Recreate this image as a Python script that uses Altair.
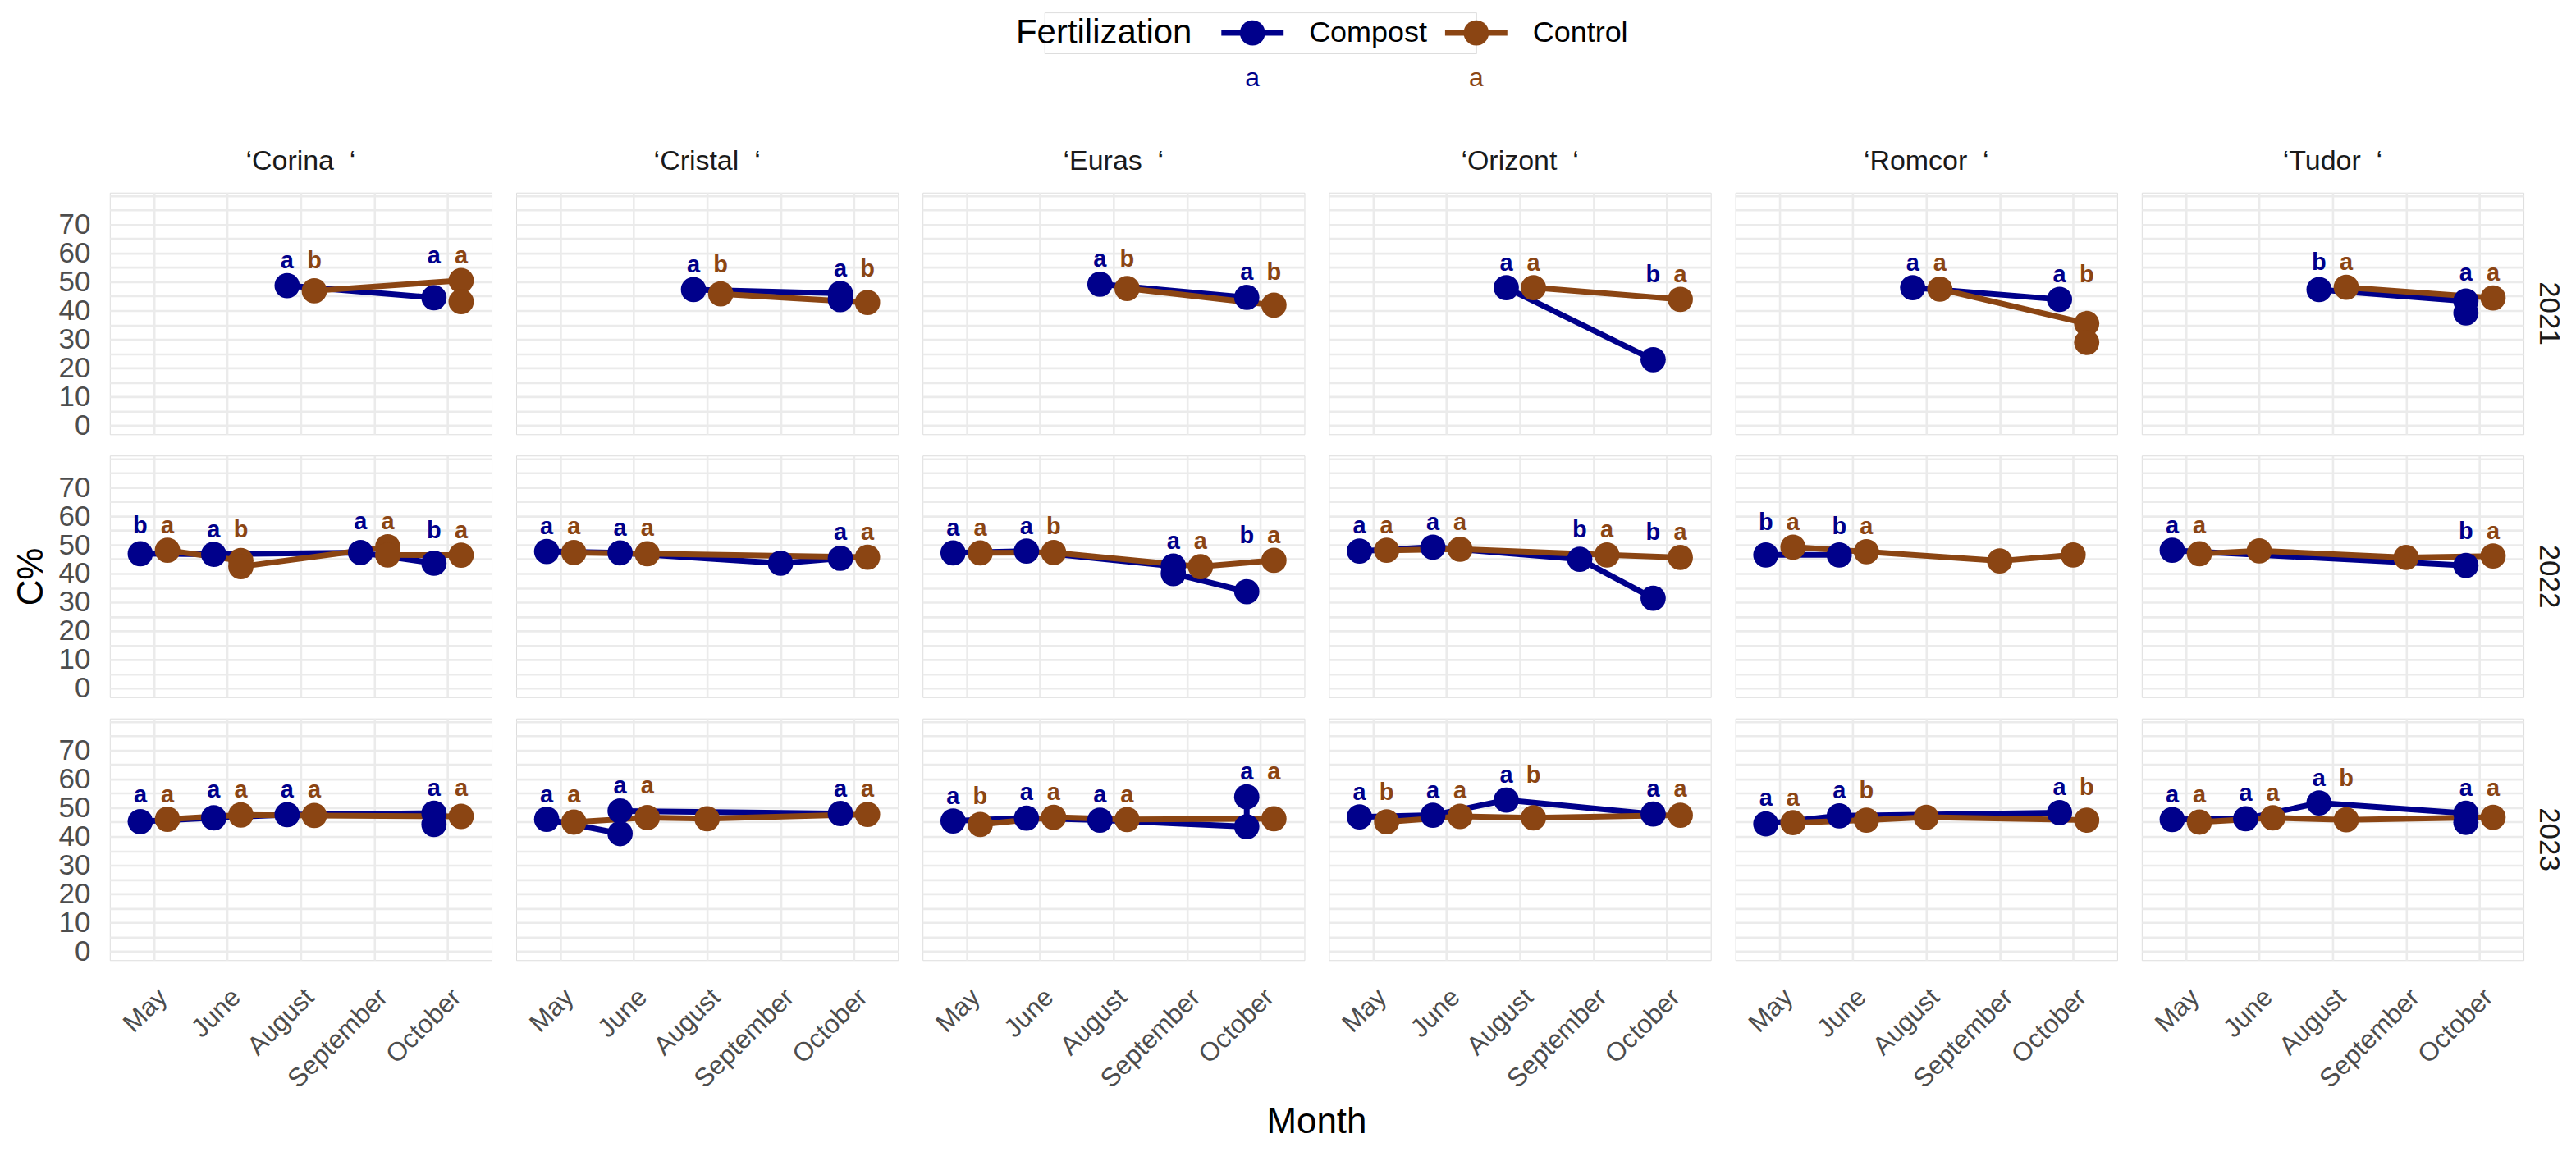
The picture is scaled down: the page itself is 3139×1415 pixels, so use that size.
import altair as alt
import pandas as pd

FONT = "Liberation Sans"
MONTHS = ["May", "June", "August", "September", "October"]
CULTIVARS = ["Corina", "Cristal", "Euras", "Orizont", "Romcor", "Tudor"]
YEARS = [2021, 2022, 2023]
FERTS = ["Compost", "Control"]
COLORS = ["#00008B", "#8B4513"]
Y_GRID = [0, 5, 10, 15, 20, 25, 30, 35, 40, 45, 50, 55, 60, 65, 70, 75, 80]
Y_LABELS = [0, 10, 20, 30, 40, 50, 60, 70]

# C% readings: cultivar -> list of (month, value), in line order
COMPOST_2021 = {
    "Corina": [("August", 48.7), ("October", 44.5)],
    "Cristal": [("August", 47.3), ("October", 46.0), ("October", 43.8)],
    "Euras": [("August", 49.2), ("October", 44.6)],
    "Orizont": [("August", 48.0), ("October", 22.9)],
    "Romcor": [("August", 48.0), ("October", 43.9)],
    "Tudor": [("August", 47.3), ("October", 43.3), ("October", 39.2)],
}
CONTROL_2021 = {
    "Corina": [("August", 46.9), ("October", 50.5), ("October", 43.1)],
    "Cristal": [("August", 45.8), ("October", 42.8)],
    "Euras": [("August", 47.7), ("October", 41.9)],
    "Orizont": [("August", 48.0), ("October", 43.9)],
    "Romcor": [("August", 47.5), ("October", 35.5), ("October", 28.9)],
    "Tudor": [("August", 48.1), ("October", 44.4)],
}
COMPOST_2022 = {
    "Corina": [("May", 46.9), ("June", 46.7), ("September", 47.3), ("October", 43.6)],
    "Cristal": [("May", 47.7), ("June", 47.2), ("September", 43.6), ("October", 45.3)],
    "Euras": [("May", 47.2), ("June", 47.8), ("September", 42.6), ("September", 40.0), ("October", 33.7)],
    "Orizont": [("May", 47.8), ("June", 49.2), ("September", 45.0), ("October", 31.4)],
    "Romcor": [("May", 46.5), ("June", 46.5)],
    "Tudor": [("May", 48.1), ("October", 42.8)],
}
CONTROL_2022 = {
    "Corina": [("May", 48.1), ("June", 44.5), ("June", 42.4), ("September", 49.3), ("September", 46.5), ("October", 46.4)],
    "Cristal": [("May", 47.3), ("June", 46.9), ("October", 45.7)],
    "Euras": [("May", 47.2), ("June", 47.3), ("September", 42.4), ("October", 44.6)],
    "Orizont": [("May", 48.1), ("June", 48.5), ("September", 46.5), ("October", 45.6)],
    "Romcor": [("May", 49.2), ("June", 47.6), ("September", 44.4), ("October", 46.5)],
    "Tudor": [("May", 46.9), ("June", 47.9), ("September", 45.6), ("October", 46.1)],
}
COMPOST_2023 = {
    "Corina": [("May", 45.2), ("June", 46.5), ("August", 47.6), ("October", 48.1), ("October", 44.2)],
    "Cristal": [("May", 46.0), ("June", 41.0), ("June", 48.9), ("October", 48.0)],
    "Euras": [("May", 45.4), ("June", 46.4), ("August", 45.7), ("October", 43.4), ("October", 53.8)],
    "Orizont": [("May", 46.8), ("June", 47.4), ("August", 52.7), ("October", 47.8)],
    "Romcor": [("May", 44.4), ("June", 47.2), ("October", 48.3)],
    "Tudor": [("May", 45.9), ("June", 46.2), ("August", 51.7), ("October", 48.1), ("October", 44.9)],
}
CONTROL_2023 = {
    "Corina": [("May", 46.0), ("June", 47.5), ("August", 47.3), ("October", 47.0)],
    "Cristal": [("May", 45.0), ("June", 46.6), ("August", 46.2), ("October", 47.7)],
    "Euras": [("May", 44.2), ("June", 46.7), ("August", 45.9), ("October", 46.2)],
    "Orizont": [("May", 45.1), ("June", 47.0), ("August", 46.5), ("October", 47.4)],
    "Romcor": [("May", 44.8), ("June", 45.7), ("August", 46.7), ("October", 45.7)],
    "Tudor": [("May", 45.0), ("June", 46.5), ("August", 45.8), ("October", 46.7)],
}

# significance letters: cultivar -> list of (month, Compost letter, Control letter)
LETTERS_2021 = {
    "Corina": [("August", "a", "b"), ("October", "a", "a")],
    "Cristal": [("August", "a", "b"), ("October", "a", "b")],
    "Euras": [("August", "a", "b"), ("October", "a", "b")],
    "Orizont": [("August", "a", "a"), ("October", "b", "a")],
    "Romcor": [("August", "a", "a"), ("October", "a", "b")],
    "Tudor": [("August", "b", "a"), ("October", "a", "a")],
}
LETTERS_2022 = {
    "Corina": [("May", "b", "a"), ("June", "a", "b"), ("September", "a", "a"), ("October", "b", "a")],
    "Cristal": [("May", "a", "a"), ("June", "a", "a"), ("October", "a", "a")],
    "Euras": [("May", "a", "a"), ("June", "a", "b"), ("September", "a", "a"), ("October", "b", "a")],
    "Orizont": [("May", "a", "a"), ("June", "a", "a"), ("September", "b", "a"), ("October", "b", "a")],
    "Romcor": [("May", "b", "a"), ("June", "b", "a")],
    "Tudor": [("May", "a", "a"), ("October", "b", "a")],
}
LETTERS_2023 = {
    "Corina": [("May", "a", "a"), ("June", "a", "a"), ("August", "a", "a"), ("October", "a", "a")],
    "Cristal": [("May", "a", "a"), ("June", "a", "a"), ("October", "a", "a")],
    "Euras": [("May", "a", "b"), ("June", "a", "a"), ("August", "a", "a"), ("October", "a", "a")],
    "Orizont": [("May", "a", "b"), ("June", "a", "a"), ("August", "a", "b"), ("October", "a", "a")],
    "Romcor": [("May", "a", "a"), ("June", "a", "b"), ("October", "a", "b")],
    "Tudor": [("May", "a", "a"), ("June", "a", "a"), ("August", "a", "b"), ("October", "a", "a")],
}

SERIES = {
    (2021, "Compost"): COMPOST_2021, (2021, "Control"): CONTROL_2021,
    (2022, "Compost"): COMPOST_2022, (2022, "Control"): CONTROL_2022,
    (2023, "Compost"): COMPOST_2023, (2023, "Control"): CONTROL_2023,
}
LETTERS = {2021: LETTERS_2021, 2022: LETTERS_2022, 2023: LETTERS_2023}


def strip_label(c):
    return "\u2018" + c + "\u00a0\u00a0\u2018"


rows = []
for (year, fert), table in SERIES.items():
    for cv, pts in table.items():
        lmap = {m: (lc if fert == "Compost" else lk) for m, lc, lk in LETTERS[year].get(cv, [])}
        seen = set()
        for i, (m, v) in enumerate(pts):
            lab = ""
            if m in lmap and m not in seen:
                lab = lmap[m]
                seen.add(m)
            rows.append(dict(Cultivar=strip_label(cv), Year=str(year), Fertilization=fert,
                             Month=m, value=v, ord=i, letter=lab))
df = pd.DataFrame(rows)

month_js = "[" + ",".join("'" + m + "'" for m in MONTHS) + "]"
color_scale = alt.Scale(domain=FERTS, range=COLORS)
y_scale = alt.Scale(domain=[-3.1, 81.1], nice=False, zero=False)
x_scale = alt.Scale(domain=[0.4, 5.6], nice=False, zero=False)

GRID = dict(grid=True, gridColor="#EBEBEB", gridWidth=2.6, domain=False, ticks=False,
            labelFont=FONT, labelColor="#4D4D4D")
x_enc = alt.X("xd:Q", scale=x_scale,
              axis=alt.Axis(values=[1, 2, 3, 4, 5], labelExpr=month_js + "[datum.value - 1]",
                            title=None, labelAngle=-45, labelAlign="right", labelBaseline="top",
                            labelPadding=28, labelFontSize=32, labelOverlap=False, **GRID))
y_axis = alt.Axis(values=Y_GRID, title=None, labelPadding=23, labelFontSize=35,
                  labelExpr="indexof(" + str(Y_LABELS) + ", datum.value) >= 0 ? datum.label : ''",
                  **GRID)
color_enc = alt.Color("Fertilization:N", scale=color_scale, legend=None)

base = alt.Chart().transform_joinaggregate(
    nf="distinct(Fertilization)", ymax="max(value)", groupby=["Cultivar", "Year", "Month"]
).transform_calculate(
    mi="indexof(" + month_js + ", datum.Month) + 1"
).transform_calculate(
    xd="datum.mi + (datum.nf > 1 ? (datum.Fertilization == 'Compost' ? -0.185 : 0.185) : 0)",
    ly="datum.ymax + 6",
)

line = base.mark_line(strokeWidth=7).encode(
    x=x_enc, y=alt.Y("value:Q", scale=y_scale, axis=y_axis), color=color_enc,
    order=alt.Order("ord:Q"))
pts = base.mark_circle(size=950, opacity=1).encode(
    x=x_enc, y=alt.Y("value:Q", scale=y_scale, axis=y_axis), color=color_enc)
txt = base.transform_filter("datum.letter != ''").mark_text(
    font=FONT, fontSize=29, fontWeight="bold", baseline="alphabetic").encode(
    x=x_enc, y=alt.Y("ly:Q", scale=y_scale, axis=y_axis), text="letter:N", color=color_enc)

grid = alt.layer(line, pts, txt, data=df).properties(width=466, height=295).facet(
    column=alt.Column("Cultivar:N", sort=[strip_label(c) for c in CULTIVARS], title="Month",
                      header=alt.Header(labelOrient="top", titleOrient="bottom", labelFontSize=34,
                                        labelColor="#1A1A1A", labelPadding=3, labelBaseline="middle",
                                        titleFontSize=44, titleFontWeight="normal", titleColor="black",
                                        titlePadding=4)),
    row=alt.Row("Year:N", sort=[str(y) for y in YEARS], title="C%",
                header=alt.Header(labelOrient="right", titleOrient="left", labelAngle=90,
                                  labelFontSize=35, labelColor="#1A1A1A", labelPadding=12,
                                  titleFontSize=44, titleFontWeight="normal", titleColor="black",
                                  titlePadding=0)),
    spacing={"row": 24, "column": 28},
)

leg_df = pd.DataFrame({"Fertilization": FERTS, "key": ["a", "a"]})
leg_title_df = pd.DataFrame({"Fertilization": [FERTS[0]], "t": ["Fertilization"]})
leg_x = alt.X("Fertilization:N", sort=FERTS, axis=None,
              scale=alt.Scale(type="point", padding=0.465, align=1))
leg_base = alt.Chart(leg_df).encode(
    x=leg_x, color=alt.Color("Fertilization:N", scale=color_scale, legend=None))
leg_line = leg_base.mark_point(shape="M-1,0L1,0", filled=False, strokeWidth=7, size=5776, opacity=1)
leg_pt = leg_base.mark_circle(size=950, opacity=1)
leg_lab = leg_base.mark_text(align="left", dx=69, fontSize=36, font=FONT).encode(
    text="Fertilization:N", color=alt.value("black"))
leg_a = leg_base.mark_text(dy=55, fontSize=32, font=FONT).encode(text="key:N")
leg_title = alt.Chart(leg_title_df).mark_text(
    align="right", dx=-74, fontSize=42, font=FONT, color="black").encode(x=leg_x, text="t:N")
legend = alt.layer(leg_title, leg_line, leg_pt, leg_lab, leg_a).properties(width=527, height=50)

chart = alt.vconcat(legend, grid, center=True, spacing=68).properties(
    padding={"left": 9, "top": 5, "right": 8, "bottom": 5}
).configure_view(stroke=None).configure_header(
    labelFont=FONT, titleFont=FONT).configure(background="white")

chart.save("out.html", embed_options={"renderer": "svg", "actions": False})
